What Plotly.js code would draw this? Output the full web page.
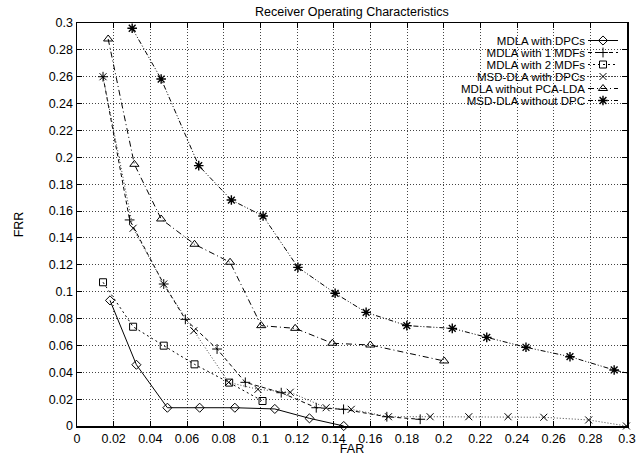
<!DOCTYPE html>
<html>
<head>
<meta charset="utf-8">
<script src="https://cdn.plot.ly/plotly-3.0.1.min.js"></script>
<style>html,body{margin:0;padding:0;background:#fff;}#chart{width:637px;height:456px;}</style>
</head>
<body>
<div id="chart"></div>
<script>
// ---- data ----
var seriesNames = ["MDLA with DPCs", "MDLA with 1 MDFs", "MDLA with 2 MDFs",
                   "MSD-DLA with DPCs", "MDLA without PCA-LDA", "MSD-DLA without DPC"];

var farDPC   = [0.018, 0.0324, 0.0493, 0.0669, 0.0861, 0.1079, 0.1268, 0.1455];
var frrDPC   = [0.0935, 0.0456, 0.0136, 0.0136, 0.0136, 0.0127, 0.0057, 0.0];

var far1MDF  = [0.0142, 0.0287, 0.0473, 0.0591, 0.0764, 0.0918, 0.1114, 0.1305, 0.1454, 0.169, 0.1872];
var frr1MDF  = [0.26, 0.1534, 0.1057, 0.0794, 0.0573, 0.0325, 0.0248, 0.0136, 0.0124, 0.0069, 0.005];

var far2MDF  = [0.0142, 0.0306, 0.0473, 0.0641, 0.083, 0.1012];
var frr2MDF  = [0.107, 0.0739, 0.0598, 0.0459, 0.0323, 0.0186];

var farMSD   = [0.0142, 0.0306, 0.0473, 0.0637, 0.0827, 0.0987, 0.1163, 0.1359, 0.1496, 0.1699, 0.1926, 0.2137, 0.2351, 0.2546, 0.2791, 0.2997];
var frrMSD   = [0.26, 0.1472, 0.1057, 0.0709, 0.0325, 0.0273, 0.0251, 0.0136, 0.0124, 0.0069, 0.0069, 0.0069, 0.0069, 0.0065, 0.0045, 0.0];

var farNoPCA = [0.017, 0.0313, 0.0459, 0.0641, 0.0835, 0.1005, 0.119, 0.1393, 0.16, 0.2003];
var frrNoPCA = [0.2881, 0.1948, 0.1541, 0.1353, 0.1219, 0.0747, 0.0727, 0.0616, 0.0603, 0.0484];

var farMSDnoDPC = [0.0301, 0.0459, 0.0664, 0.0842, 0.1015, 0.1205, 0.1408, 0.1577, 0.1799, 0.2047, 0.2235, 0.2449, 0.2689, 0.293, 0.317];
var frrMSDnoDPC = [0.2961, 0.2583, 0.1938, 0.1682, 0.1563, 0.1181, 0.0988, 0.0846, 0.0747, 0.0727, 0.066, 0.0586, 0.0516, 0.0417, 0.034];

var tickVals = [0, 0.02, 0.04, 0.06, 0.08, 0.1, 0.12, 0.14, 0.16, 0.18, 0.2, 0.22, 0.24, 0.26, 0.28, 0.3];
var tickText = ["0", "0.02", "0.04", "0.06", "0.08", "0.1", "0.12", "0.14", "0.16", "0.18", "0.2", "0.22", "0.24", "0.26", "0.28", "0.3"];

// ---- styling ----
var FONT = "Liberation Sans, Arial, Helvetica, sans-serif";
var FS = 12.5;
var LFS = 11.5;
function tr(name, xs, ys, dash, symbol, msize, lw, clip, lcolor) {
  return {
    type: "scatter", mode: "lines+markers", name: name, x: xs, y: ys,
    cliponaxis: clip,
    line: {color: lcolor || "#000", width: lw, dash: dash},
    marker: {symbol: symbol, size: msize, color: "#000", line: {color: "#000", width: 1}}
  };
}
var data = [
  tr(seriesNames[0], farDPC, frrDPC, "solid", "diamond-open", 7, 1, false),
  tr(seriesNames[1], far1MDF, frr1MDF, "4px,3px", "cross-thin-open", 7, 1, false),
  tr(seriesNames[2], far2MDF, frr2MDF, "2px,3px", "square-open", 7, 1, false),
  tr(seriesNames[3], farMSD, frrMSD, "1px,2px", "x-thin-open", 7, 1, false, "#444"),
  tr(seriesNames[4], farNoPCA, frrNoPCA, "6px,3px,1px,3px", "triangle-up-open", 8, 1, false),
  tr(seriesNames[5], farMSDnoDPC, frrMSDnoDPC, "5px,2px,1px,2px,1px,2px", "asterisk-open", 8, 1, true)
];
data[5].marker.line.width = 1.4;

function axis(titleText) {
  return {
    range: [0, 0.3], autorange: false,
    tickmode: "array", tickvals: tickVals, ticktext: tickText,
    ticks: "inside", ticklen: 5, tickwidth: 1, tickcolor: "#000",
    showline: true, linecolor: "#000", linewidth: 1.5, mirror: "allticks",
    showgrid: true, gridcolor: "#444", gridwidth: 1, griddash: "1px,2px",
    zeroline: false,
    tickfont: {family: FONT, size: FS, color: "#000"},
    title: {text: titleText, font: {family: FONT, size: FS, color: "#000"}}
  };
}
var xa = axis("FAR"); xa.title.standoff = 0;
var ya = axis("FRR"); ya.title.standoff = 22;

var layout = {
  width: 637, height: 456,
  margin: {l: 77, r: 10, t: 23, b: 30},
  paper_bgcolor: "#fff", plot_bgcolor: "#fff",
  title: {text: "Receiver Operating Characteristics", font: {family: FONT, size: FS, color: "#000"},
          x: 0.5525, xanchor: "center", y: 0.985, yanchor: "top"},
  xaxis: xa, yaxis: ya,
  showlegend: true,
  legend: {x: 1, xanchor: "right", y: 1, yanchor: "top", bgcolor: "rgba(0,0,0,0)",
           borderwidth: 0, font: {family: FONT, size: LFS, color: "#000"}, traceorder: "normal"}
};

var gd = document.getElementById("chart");
Plotly.newPlot(gd, data, layout, {staticPlot: true, displayModeBar: false}).then(function () {
  var sb = gd.querySelector(".legend .scrollbox");
  if (sb) sb.removeAttribute("clip-path");
  var lg = gd.querySelector(".legend");
  if (lg) lg.removeAttribute("clip-path");
  var groups = gd.querySelectorAll(".legend .traces");
  groups.forEach(function (g, i) {
    var ctm = g.parentNode.getScreenCTM();
    var tx = 585 - ctm.e, ty = 40.5 + i * 12 - ctm.f;
    g.setAttribute("transform", "translate(" + tx + "," + ty + ")");
    var t = g.querySelector(".legendtext");
    if (t) { t.setAttribute("x", 0); t.setAttribute("text-anchor", "end"); }
    var layers = g.querySelector(".layers");
    if (layers) layers.setAttribute("transform", "translate(-2,0)");
  });
});
</script>
</body>
</html>
